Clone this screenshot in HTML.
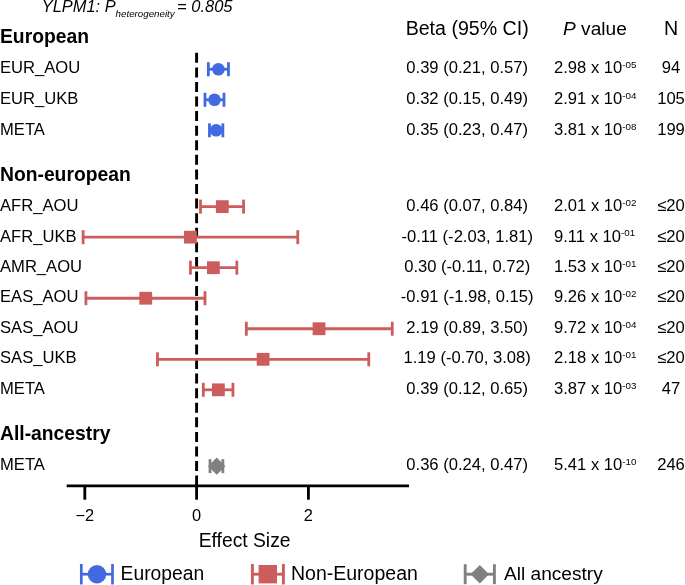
<!DOCTYPE html>
<html><head><meta charset="utf-8"><style>
html,body{margin:0;padding:0;background:#fff;}
svg{display:block;will-change:transform;}
text{font-family:"Liberation Sans",sans-serif;fill:#000;}
</style></head><body>
<svg width="685" height="585" viewBox="0 0 685 585">
<text x="41.8" y="11.8" font-style="italic" font-size="16.4">YLPM1: P<tspan font-size="9.75" dy="5.6">heterogeneity</tspan></text>
<text x="177.0" y="11.8" font-style="italic" font-size="16.5">= 0.805</text>
<text x="467.2" y="34.6" font-size="19.6" text-anchor="middle">Beta (95% CI)</text>
<text x="594.9" y="34.6" font-size="19.1" text-anchor="middle"><tspan font-style="italic">P</tspan> value</text>
<text x="671.0" y="34.6" font-size="19.6" text-anchor="middle">N</text>
<text x="0" y="42.8" font-size="19.3" font-weight="bold">European</text>
<text x="0" y="181.0" font-size="19.3" font-weight="bold">Non-european</text>
<text x="0" y="439.8" font-size="19.3" font-weight="bold">All-ancestry</text>
<line x1="196.6" y1="52.8" x2="196.6" y2="486" stroke="#000" stroke-width="2.9" stroke-dasharray="10 4.58"/>
<line x1="66.7" y1="485.9" x2="409" y2="485.9" stroke="#000" stroke-width="2.85"/>
<line x1="84.80" y1="485" x2="84.80" y2="499.7" stroke="#000" stroke-width="2.85"/>
<text x="84.80" y="521.3" font-size="16.4" text-anchor="middle">−2</text>
<line x1="196.60" y1="485" x2="196.60" y2="499.7" stroke="#000" stroke-width="2.85"/>
<text x="196.60" y="521.3" font-size="16.4" text-anchor="middle">0</text>
<line x1="308.40" y1="485" x2="308.40" y2="499.7" stroke="#000" stroke-width="2.85"/>
<text x="308.40" y="521.3" font-size="16.4" text-anchor="middle">2</text>
<text x="244.6" y="546.5" font-size="19.3" text-anchor="middle">Effect Size</text>
<text x="0" y="73.00" font-size="16.6">EUR_AOU</text>
<line x1="208.34" y1="69.25" x2="228.46" y2="69.25" stroke="#4169E1" stroke-width="2.8"/>
<line x1="208.34" y1="62.25" x2="208.34" y2="76.25" stroke="#4169E1" stroke-width="2.8"/>
<line x1="228.46" y1="62.25" x2="228.46" y2="76.25" stroke="#4169E1" stroke-width="2.8"/>
<circle cx="218.40" cy="69.25" r="6.3" fill="#4169E1"/>
<text x="467.2" y="73.00" font-size="16.6" text-anchor="middle">0.39 (0.21, 0.57)</text>
<text x="554.0" y="73.00" font-size="16.6">2.98 x 10<tspan font-size="9.8" dy="-5.3">-05</tspan></text>
<text x="671.0" y="73.00" font-size="16.6" text-anchor="middle">94</text>
<text x="0" y="104.00" font-size="16.6">EUR_UKB</text>
<line x1="204.98" y1="99.78" x2="223.99" y2="99.78" stroke="#4169E1" stroke-width="2.8"/>
<line x1="204.98" y1="92.78" x2="204.98" y2="106.78" stroke="#4169E1" stroke-width="2.8"/>
<line x1="223.99" y1="92.78" x2="223.99" y2="106.78" stroke="#4169E1" stroke-width="2.8"/>
<circle cx="214.49" cy="99.78" r="6.3" fill="#4169E1"/>
<text x="467.2" y="104.00" font-size="16.6" text-anchor="middle">0.32 (0.15, 0.49)</text>
<text x="554.0" y="104.00" font-size="16.6">2.91 x 10<tspan font-size="9.8" dy="-5.3">-04</tspan></text>
<text x="671.0" y="104.00" font-size="16.6" text-anchor="middle">105</text>
<text x="0" y="135.00" font-size="16.6">META</text>
<line x1="209.46" y1="130.31" x2="222.87" y2="130.31" stroke="#4169E1" stroke-width="2.8"/>
<line x1="209.46" y1="123.31" x2="209.46" y2="137.31" stroke="#4169E1" stroke-width="2.8"/>
<line x1="222.87" y1="123.31" x2="222.87" y2="137.31" stroke="#4169E1" stroke-width="2.8"/>
<circle cx="216.16" cy="130.31" r="6.3" fill="#4169E1"/>
<text x="467.2" y="135.00" font-size="16.6" text-anchor="middle">0.35 (0.23, 0.47)</text>
<text x="554.0" y="135.00" font-size="16.6">3.81 x 10<tspan font-size="9.8" dy="-5.3">-08</tspan></text>
<text x="671.0" y="135.00" font-size="16.6" text-anchor="middle">199</text>
<text x="0" y="211.00" font-size="16.6">AFR_AOU</text>
<line x1="200.51" y1="206.63" x2="243.56" y2="206.63" stroke="#CD5C5C" stroke-width="2.8"/>
<line x1="200.51" y1="199.63" x2="200.51" y2="213.63" stroke="#CD5C5C" stroke-width="2.8"/>
<line x1="243.56" y1="199.63" x2="243.56" y2="213.63" stroke="#CD5C5C" stroke-width="2.8"/>
<rect x="215.91" y="200.23" width="12.8" height="12.8" fill="#CD5C5C"/>
<text x="467.2" y="211.00" font-size="16.6" text-anchor="middle">0.46 (0.07, 0.84)</text>
<text x="554.0" y="211.00" font-size="16.6">2.01 x 10<tspan font-size="9.8" dy="-5.3">-02</tspan></text>
<text x="671.0" y="211.00" font-size="16.6" text-anchor="middle">≤20</text>
<text x="0" y="241.60" font-size="16.6">AFR_UKB</text>
<line x1="83.12" y1="237.17" x2="297.78" y2="237.17" stroke="#CD5C5C" stroke-width="2.8"/>
<line x1="83.12" y1="230.17" x2="83.12" y2="244.17" stroke="#CD5C5C" stroke-width="2.8"/>
<line x1="297.78" y1="230.17" x2="297.78" y2="244.17" stroke="#CD5C5C" stroke-width="2.8"/>
<rect x="184.05" y="230.77" width="12.8" height="12.8" fill="#CD5C5C"/>
<text x="467.2" y="241.60" font-size="16.6" text-anchor="middle">-0.11 (-2.03, 1.81)</text>
<text x="554.0" y="241.60" font-size="16.6">9.11 x 10<tspan font-size="9.8" dy="-5.3">-01</tspan></text>
<text x="671.0" y="241.60" font-size="16.6" text-anchor="middle">≤20</text>
<text x="0" y="272.00" font-size="16.6">AMR_AOU</text>
<line x1="190.45" y1="267.69" x2="236.85" y2="267.69" stroke="#CD5C5C" stroke-width="2.8"/>
<line x1="190.45" y1="260.69" x2="190.45" y2="274.69" stroke="#CD5C5C" stroke-width="2.8"/>
<line x1="236.85" y1="260.69" x2="236.85" y2="274.69" stroke="#CD5C5C" stroke-width="2.8"/>
<rect x="206.97" y="261.30" width="12.8" height="12.8" fill="#CD5C5C"/>
<text x="467.2" y="272.00" font-size="16.6" text-anchor="middle">0.30 (-0.11, 0.72)</text>
<text x="554.0" y="272.00" font-size="16.6">1.53 x 10<tspan font-size="9.8" dy="-5.3">-01</tspan></text>
<text x="671.0" y="272.00" font-size="16.6" text-anchor="middle">≤20</text>
<text x="0" y="302.00" font-size="16.6">EAS_AOU</text>
<line x1="85.92" y1="298.23" x2="204.98" y2="298.23" stroke="#CD5C5C" stroke-width="2.8"/>
<line x1="85.92" y1="291.23" x2="85.92" y2="305.23" stroke="#CD5C5C" stroke-width="2.8"/>
<line x1="204.98" y1="291.23" x2="204.98" y2="305.23" stroke="#CD5C5C" stroke-width="2.8"/>
<rect x="139.33" y="291.83" width="12.8" height="12.8" fill="#CD5C5C"/>
<text x="467.2" y="302.00" font-size="16.6" text-anchor="middle">-0.91 (-1.98, 0.15)</text>
<text x="554.0" y="302.00" font-size="16.6">9.26 x 10<tspan font-size="9.8" dy="-5.3">-02</tspan></text>
<text x="671.0" y="302.00" font-size="16.6" text-anchor="middle">≤20</text>
<text x="0" y="333.00" font-size="16.6">SAS_AOU</text>
<line x1="246.35" y1="328.75" x2="392.25" y2="328.75" stroke="#CD5C5C" stroke-width="2.8"/>
<line x1="246.35" y1="321.75" x2="246.35" y2="335.75" stroke="#CD5C5C" stroke-width="2.8"/>
<line x1="392.25" y1="321.75" x2="392.25" y2="335.75" stroke="#CD5C5C" stroke-width="2.8"/>
<rect x="312.62" y="322.36" width="12.8" height="12.8" fill="#CD5C5C"/>
<text x="467.2" y="333.00" font-size="16.6" text-anchor="middle">2.19 (0.89, 3.50)</text>
<text x="554.0" y="333.00" font-size="16.6">9.72 x 10<tspan font-size="9.8" dy="-5.3">-04</tspan></text>
<text x="671.0" y="333.00" font-size="16.6" text-anchor="middle">≤20</text>
<text x="0" y="363.00" font-size="16.6">SAS_UKB</text>
<line x1="157.47" y1="359.29" x2="368.77" y2="359.29" stroke="#CD5C5C" stroke-width="2.8"/>
<line x1="157.47" y1="352.29" x2="157.47" y2="366.29" stroke="#CD5C5C" stroke-width="2.8"/>
<line x1="368.77" y1="352.29" x2="368.77" y2="366.29" stroke="#CD5C5C" stroke-width="2.8"/>
<rect x="256.72" y="352.89" width="12.8" height="12.8" fill="#CD5C5C"/>
<text x="467.2" y="363.00" font-size="16.6" text-anchor="middle">1.19 (-0.70, 3.08)</text>
<text x="554.0" y="363.00" font-size="16.6">2.18 x 10<tspan font-size="9.8" dy="-5.3">-01</tspan></text>
<text x="671.0" y="363.00" font-size="16.6" text-anchor="middle">≤20</text>
<text x="0" y="394.00" font-size="16.6">META</text>
<line x1="203.31" y1="389.81" x2="232.94" y2="389.81" stroke="#CD5C5C" stroke-width="2.8"/>
<line x1="203.31" y1="382.81" x2="203.31" y2="396.81" stroke="#CD5C5C" stroke-width="2.8"/>
<line x1="232.94" y1="382.81" x2="232.94" y2="396.81" stroke="#CD5C5C" stroke-width="2.8"/>
<rect x="212.00" y="383.42" width="12.8" height="12.8" fill="#CD5C5C"/>
<text x="467.2" y="394.00" font-size="16.6" text-anchor="middle">0.39 (0.12, 0.65)</text>
<text x="554.0" y="394.00" font-size="16.6">3.87 x 10<tspan font-size="9.8" dy="-5.3">-03</tspan></text>
<text x="671.0" y="394.00" font-size="16.6" text-anchor="middle">47</text>
<text x="0" y="470.00" font-size="16.6">META</text>
<line x1="210.02" y1="466.14" x2="222.87" y2="466.14" stroke="#808080" stroke-width="2.8"/>
<line x1="210.02" y1="459.14" x2="210.02" y2="473.14" stroke="#808080" stroke-width="2.8"/>
<line x1="222.87" y1="459.14" x2="222.87" y2="473.14" stroke="#808080" stroke-width="2.8"/>
<polygon points="208.02,466.14 216.72,457.44 225.42,466.14 216.72,474.84" fill="#808080"/>
<text x="467.2" y="470.00" font-size="16.6" text-anchor="middle">0.36 (0.24, 0.47)</text>
<text x="554.0" y="470.00" font-size="16.6">5.41 x 10<tspan font-size="9.8" dy="-5.3">-10</tspan></text>
<text x="671.0" y="470.00" font-size="16.6" text-anchor="middle">246</text>
<line x1="81.30" y1="574.20" x2="112.50" y2="574.20" stroke="#4169E1" stroke-width="2.7"/>
<line x1="81.30" y1="563.95" x2="81.30" y2="584.45" stroke="#4169E1" stroke-width="2.7"/>
<line x1="112.50" y1="563.95" x2="112.50" y2="584.45" stroke="#4169E1" stroke-width="2.7"/>
<circle cx="97.00" cy="574.20" r="9.2" fill="#4169E1"/>
<text x="120.6" y="579.5" font-size="19.3">European</text>
<line x1="252.40" y1="574.20" x2="283.40" y2="574.20" stroke="#CD5C5C" stroke-width="2.9"/>
<line x1="252.40" y1="563.95" x2="252.40" y2="584.45" stroke="#CD5C5C" stroke-width="2.9"/>
<line x1="283.40" y1="563.95" x2="283.40" y2="584.45" stroke="#CD5C5C" stroke-width="2.9"/>
<rect x="258.60" y="565.00" width="18.4" height="18.4" fill="#CD5C5C"/>
<text x="291" y="579.5" font-size="19.5">Non-European</text>
<line x1="465.20" y1="574.20" x2="494.40" y2="574.20" stroke="#808080" stroke-width="2.9"/>
<line x1="465.20" y1="564.20" x2="465.20" y2="584.20" stroke="#808080" stroke-width="2.9"/>
<line x1="494.40" y1="564.20" x2="494.40" y2="584.20" stroke="#808080" stroke-width="2.9"/>
<polygon points="470.50,574.20 479.80,564.90 489.10,574.20 479.80,583.50" fill="#808080"/>
<text x="504" y="579.5" font-size="19.1">All ancestry</text>
</svg>
</body></html>
